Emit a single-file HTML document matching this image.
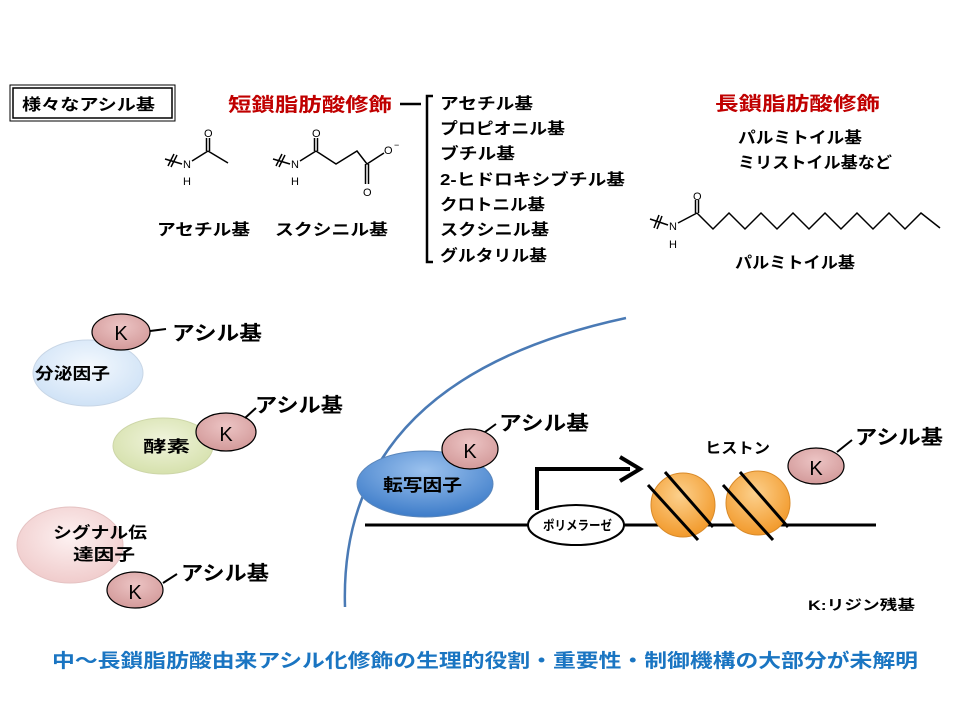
<!DOCTYPE html>
<html><head><meta charset="utf-8"><style>
html,body{margin:0;padding:0;background:#fff;}
svg{display:block;font-family:"Liberation Sans","Noto Sans CJK JP",sans-serif;font-weight:bold;}
</style></head><body>
<svg width="960" height="720" viewBox="0 0 960 720" xmlns="http://www.w3.org/2000/svg">
<defs>
<radialGradient id="gb" cx="50%" cy="40%" r="60%"><stop offset="0" stop-color="#f4f9fe"/><stop offset="1" stop-color="#cfe2f6"/></radialGradient>
<radialGradient id="gg" cx="50%" cy="40%" r="60%"><stop offset="0" stop-color="#f0f4dc"/><stop offset="1" stop-color="#d6e1ad"/></radialGradient>
<radialGradient id="gp" cx="50%" cy="40%" r="60%"><stop offset="0" stop-color="#fdf1f1"/><stop offset="1" stop-color="#f0cccc"/></radialGradient>
<radialGradient id="gt" cx="50%" cy="30%" r="70%"><stop offset="0" stop-color="#9cc2ee"/><stop offset="1" stop-color="#3d7cc9"/></radialGradient>
<radialGradient id="go" cx="45%" cy="35%" r="65%"><stop offset="0" stop-color="#fcd08c"/><stop offset="1" stop-color="#f29a2c"/></radialGradient>
<radialGradient id="gk" cx="50%" cy="35%" r="65%"><stop offset="0" stop-color="#ecc4c4"/><stop offset="1" stop-color="#d39a9a"/></radialGradient>
</defs>

<rect x="10" y="85" width="165" height="36" fill="none" stroke="#000" stroke-width="1"/>
<rect x="13" y="88" width="159" height="30" fill="none" stroke="#000" stroke-width="1.5"/>
<text x="22" y="110" font-size="16" textLength="133" lengthAdjust="spacingAndGlyphs">様々なアシル基</text>

<text x="228" y="111" font-size="19" fill="#c00000" textLength="164" lengthAdjust="spacingAndGlyphs">短鎖脂肪酸修飾</text>
<line x1="400" y1="104" x2="421" y2="104" stroke="#000" stroke-width="2.5"/>
<path d="M433,96 H427 V262 H433" fill="none" stroke="#000" stroke-width="2.5"/>
<g font-size="16" lengthAdjust="spacingAndGlyphs">
<text x="440" y="109" textLength="93" lengthAdjust="spacingAndGlyphs">アセチル基</text>
<text x="440" y="134" textLength="125" lengthAdjust="spacingAndGlyphs">プロピオニル基</text>
<text x="440" y="159" textLength="75" lengthAdjust="spacingAndGlyphs">ブチル基</text>
<text x="440" y="185" textLength="185" lengthAdjust="spacingAndGlyphs">2-ヒドロキシブチル基</text>
<text x="440" y="210" textLength="105" lengthAdjust="spacingAndGlyphs">クロトニル基</text>
<text x="440" y="235" textLength="109" lengthAdjust="spacingAndGlyphs">スクシニル基</text>
<text x="440" y="261" textLength="107" lengthAdjust="spacingAndGlyphs">グルタリル基</text>
</g>

<text x="715" y="110" font-size="19" fill="#c00000" textLength="165" lengthAdjust="spacingAndGlyphs">長鎖脂肪酸修飾</text>
<text x="738" y="143" font-size="16" textLength="124" lengthAdjust="spacingAndGlyphs">パルミトイル基</text>
<text x="738" y="168" font-size="16" textLength="154" lengthAdjust="spacingAndGlyphs">ミリストイル基など</text>

<g stroke="#000" stroke-width="1.5" fill="none">
<line x1="165" y1="159" x2="182" y2="164"/><line x1="168" y1="166" x2="174" y2="154"/><line x1="171" y1="167" x2="177" y2="155"/>
<line x1="192" y1="161" x2="208" y2="151"/><line x1="208" y1="151" x2="228" y2="163"/>
<line x1="206.5" y1="151" x2="206.5" y2="138"/><line x1="209.5" y1="151" x2="209.5" y2="138"/>
</g>
<g font-size="11" font-weight="normal">
<text x="183" y="168">N</text><text x="183" y="185">H</text><text x="204" y="137">O</text>
</g>
<g stroke="#000" stroke-width="1.5" fill="none">
<line x1="273" y1="159" x2="290" y2="164"/><line x1="276" y1="166" x2="282" y2="154"/><line x1="279" y1="167" x2="285" y2="155"/>
<line x1="300" y1="161" x2="316" y2="151"/><polyline points="316,151 336,164 357,151 367,164 384,153"/>
<line x1="314.5" y1="151" x2="314.5" y2="138"/><line x1="317.5" y1="151" x2="317.5" y2="138"/>
<line x1="365.5" y1="164" x2="365.5" y2="184"/><line x1="368.5" y1="164" x2="368.5" y2="184"/>
</g>
<g font-size="11" font-weight="normal">
<text x="291" y="168">N</text><text x="291" y="185">H</text><text x="312" y="137">O</text>
<text x="384" y="154">O</text><text x="394" y="148" font-size="9">−</text><text x="363" y="196">O</text>
</g>
<text x="157" y="235" font-size="16" textLength="93" lengthAdjust="spacingAndGlyphs">アセチル基</text>
<text x="275" y="235" font-size="16" textLength="113" lengthAdjust="spacingAndGlyphs">スクシニル基</text>

<g stroke="#000" stroke-width="1.5" fill="none">
<line x1="650" y1="219" x2="668" y2="225"/><line x1="654" y1="228" x2="659" y2="215"/><line x1="657" y1="229" x2="662" y2="216"/>
<line x1="678" y1="223" x2="697" y2="213"/>
<line x1="695.5" y1="213" x2="695.5" y2="200"/><line x1="698.5" y1="213" x2="698.5" y2="200"/>
<polyline points="697,213 713,229 729,213 745,229 761,213 777,229 793,213 809,229 825,213 841,229 857,213 873,229 889,213 905,229 921,213 940,228"/>
</g>
<g font-size="11" font-weight="normal">
<text x="669" y="230">N</text><text x="669" y="248">H</text><text x="693" y="200">O</text>
</g>
<text x="735" y="268" font-size="16" textLength="120" lengthAdjust="spacingAndGlyphs">パルミトイル基</text>

<path d="M345,607 Q338,380 626,318" fill="none" stroke="#4a7ab5" stroke-width="2.5"/>

<ellipse cx="88" cy="373" rx="55" ry="33" fill="url(#gb)" stroke="#c8d6e6"/>
<text x="35" y="379" font-size="16" textLength="75" lengthAdjust="spacingAndGlyphs">分泌因子</text>
<ellipse cx="121" cy="332" rx="29" ry="18" fill="url(#gk)" stroke="#000" stroke-width="1.2"/>
<text x="121" y="340" font-size="20" font-weight="normal" text-anchor="middle">K</text>
<line x1="150" y1="331" x2="166" y2="329" stroke="#000" stroke-width="2"/>
<text x="172" y="340" font-size="20" textLength="90" lengthAdjust="spacingAndGlyphs">アシル基</text>

<ellipse cx="163" cy="446" rx="50" ry="28" fill="url(#gg)" stroke="#cdd6a8"/>
<text x="143" y="452" font-size="16" textLength="47" lengthAdjust="spacingAndGlyphs">酵素</text>
<ellipse cx="226" cy="432" rx="30" ry="19" fill="url(#gk)" stroke="#000" stroke-width="1.2"/>
<text x="226" y="441" font-size="20" font-weight="normal" text-anchor="middle">K</text>
<line x1="245" y1="418" x2="256" y2="408" stroke="#000" stroke-width="2"/>
<text x="255" y="412" font-size="20" textLength="88" lengthAdjust="spacingAndGlyphs">アシル基</text>

<ellipse cx="70" cy="545" rx="53" ry="38" fill="url(#gp)" stroke="#e5c3c3"/>
<text x="53" y="538" font-size="16" textLength="94" lengthAdjust="spacingAndGlyphs">シグナル伝</text>
<text x="73" y="560" font-size="16" textLength="62" lengthAdjust="spacingAndGlyphs">達因子</text>
<ellipse cx="135" cy="590" rx="28" ry="18" fill="url(#gk)" stroke="#000" stroke-width="1.2"/>
<text x="135" y="599" font-size="20" font-weight="normal" text-anchor="middle">K</text>
<line x1="163" y1="583" x2="177" y2="574" stroke="#000" stroke-width="2"/>
<text x="181" y="580" font-size="20" textLength="88" lengthAdjust="spacingAndGlyphs">アシル基</text>

<line x1="365" y1="525" x2="876" y2="525" stroke="#000" stroke-width="3"/>
<ellipse cx="425" cy="484" rx="68" ry="33" fill="url(#gt)" stroke="#5a86bb"/>
<text x="383" y="491" font-size="17" textLength="79" lengthAdjust="spacingAndGlyphs">転写因子</text>
<ellipse cx="470" cy="449" rx="28" ry="20" fill="url(#gk)" stroke="#000" stroke-width="1.2"/>
<text x="470" y="458" font-size="20" font-weight="normal" text-anchor="middle">K</text>
<line x1="485" y1="432" x2="496" y2="424" stroke="#000" stroke-width="2"/>
<text x="499" y="430" font-size="20" textLength="90" lengthAdjust="spacingAndGlyphs">アシル基</text>

<path d="M537,510 V469 H630" fill="none" stroke="#000" stroke-width="4"/>
<path d="M620,457 L640,469 L620,481" fill="none" stroke="#000" stroke-width="4"/>

<ellipse cx="576" cy="525" rx="48" ry="20" fill="#fff" stroke="#000" stroke-width="2"/>
<text x="543" y="530" font-size="13" textLength="69" lengthAdjust="spacingAndGlyphs">ポリメラーゼ</text>

<circle cx="683" cy="505" r="32" fill="url(#go)" stroke="#d88a2a"/>
<circle cx="758" cy="503" r="32" fill="url(#go)" stroke="#d88a2a"/>
<g stroke="#000" stroke-width="3">
<line x1="648" y1="485" x2="698" y2="540"/><line x1="665" y1="472" x2="713" y2="527"/>
<line x1="723" y1="485" x2="773" y2="540"/><line x1="740" y1="472" x2="788" y2="527"/>
</g>
<text x="705" y="453" font-size="15" textLength="65" lengthAdjust="spacingAndGlyphs">ヒストン</text>
<ellipse cx="816" cy="466" rx="28" ry="18" fill="url(#gk)" stroke="#000" stroke-width="1.2"/>
<text x="816" y="475" font-size="20" font-weight="normal" text-anchor="middle">K</text>
<line x1="837" y1="452" x2="852" y2="440" stroke="#000" stroke-width="2"/>
<text x="855" y="444" font-size="20" textLength="88" lengthAdjust="spacingAndGlyphs">アシル基</text>

<text x="808" y="610" font-size="14" textLength="107" lengthAdjust="spacingAndGlyphs">K:リジン残基</text>

<text x="52" y="667" font-size="19" fill="#1a75c2" textLength="866" lengthAdjust="spacingAndGlyphs">中～長鎖脂肪酸由来アシル化修飾の生理的役割・重要性・制御機構の大部分が未解明</text>
</svg>
</body></html>
